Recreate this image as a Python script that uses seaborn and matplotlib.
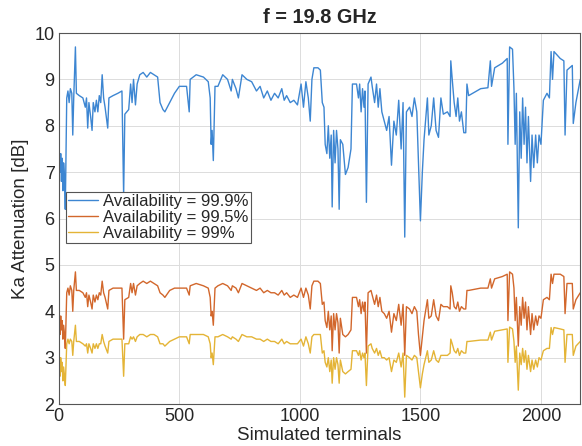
import matplotlib
matplotlib.use("Agg")
import matplotlib.pyplot as plt
import seaborn as sns
import pandas as pd

terminals = [0, 2, 5, 8, 11, 14, 17, 20, 24, 27, 33, 38, 43, 48, 54, 58, 62, 69, 73, 85,
             100, 110, 115, 120, 125, 132, 138, 143, 150, 156, 162, 168, 174, 180, 186, 192, 203, 208, 225, 245,
             262, 269, 274, 290, 298, 304, 310, 318, 325, 336, 350, 365, 380, 395, 410, 420, 432, 440, 460, 480,
             500, 530, 541, 545, 570, 600, 620, 628, 632, 636, 641, 648, 660, 680, 700, 715, 720, 735, 745, 760,
             780, 800, 820, 835, 850, 865, 880, 895, 910, 925, 935, 945, 960, 975, 990, 1005, 1015, 1025, 1035, 1043,
             1050, 1058, 1075, 1085, 1093, 1100, 1105, 1112, 1118, 1124, 1130, 1134, 1140, 1146, 1152, 1158, 1163, 1168, 1178, 1189,
             1200, 1212, 1218, 1235, 1243, 1248, 1254, 1260, 1266, 1270, 1276, 1283, 1295, 1300, 1310, 1318, 1325, 1332, 1340, 1350,
             1360, 1370, 1380, 1390, 1400, 1410, 1420, 1428, 1435, 1442, 1455, 1465, 1475, 1485, 1492, 1500, 1508, 1515, 1529, 1535,
             1545, 1555, 1565, 1575, 1585, 1595, 1612, 1623, 1626, 1632, 1640, 1648, 1655, 1662, 1670, 1680, 1688, 1693, 1700, 1750,
             1780, 1790, 1795, 1808, 1840, 1860, 1863, 1870, 1882, 1888, 1893, 1898, 1906, 1912, 1918, 1924, 1930, 1936, 1942, 1948,
             1957, 1963, 1970, 1978, 1985, 1992, 2000, 2010, 2025, 2035, 2042, 2048, 2054, 2080, 2095, 2100, 2108, 2130, 2134, 2145,
             2163]

avail_999 = [8.3, 7.3, 7.0, 7.4, 6.8, 7.3, 6.6, 7.2, 6.9, 6.2, 8.6, 8.75, 8.5, 8.8, 8.7, 7.8, 8.6, 9.7, 8.7, 8.65,
             8.6, 8.4, 8.6, 7.95, 8.5, 8.2, 7.9, 8.5, 8.3, 8.55, 8.3, 8.65, 8.5, 9.1, 8.6, 8.4, 7.95, 8.6, 8.65, 8.7,
             8.75, 6.5, 8.25, 8.35, 8.9, 8.5, 9.0, 8.45, 8.9, 9.1, 9.15, 9.05, 9.15, 9.1, 9.05, 8.5, 8.35, 8.3, 8.5, 8.7,
             8.85, 8.85, 8.3, 9.0, 9.1, 9.05, 8.95, 8.6, 7.6, 7.9, 7.25, 8.85, 8.85, 9.1, 9.0, 8.75, 9.0, 8.8, 8.6, 9.1,
             9.0, 8.95, 8.75, 8.85, 8.6, 8.75, 8.55, 8.7, 8.6, 8.8, 8.55, 8.65, 8.5, 8.55, 8.45, 8.9, 8.4, 8.95, 8.6, 8.1,
             9.0, 9.25, 9.25, 9.2, 8.5, 8.4, 7.6, 7.4, 8.0, 7.3, 7.8, 6.25, 7.9, 7.2, 7.9, 7.5, 6.2, 7.7, 7.6, 6.95,
             7.1, 7.5, 8.9, 8.9, 8.6, 8.9, 8.3, 8.8, 8.4, 8.75, 6.35, 8.9, 9.05, 8.85, 8.5, 8.9, 8.4, 8.8, 8.3, 8.1,
             7.9, 8.2, 7.15, 8.1, 7.8, 8.55, 7.5, 8.5, 5.6, 8.3, 8.4, 8.2, 8.6, 8.3, 7.2, 5.95, 7.0, 7.7, 8.6, 7.8,
             8.0, 8.6, 7.9, 7.75, 8.6, 8.25, 8.3, 8.2, 9.4, 9.0, 8.5, 8.2, 8.6, 8.1, 8.3, 7.85, 7.85, 8.9, 8.65, 8.8,
             8.82, 9.4, 8.85, 9.25, 9.35, 9.45, 7.6, 9.7, 9.65, 8.8, 7.6, 8.7, 5.8, 8.3, 7.3, 8.6, 7.6, 8.4, 7.2, 8.2,
             6.8, 7.8, 7.1, 7.8, 7.2, 7.8, 7.6, 8.55, 8.7, 8.6, 9.6, 9.0, 9.6, 9.45, 9.4, 7.8, 9.2, 9.3, 8.05, 8.5,
             9.0]

avail_995 = [4.1, 3.7, 3.5, 3.9, 3.6, 3.8, 3.4, 3.7, 3.5, 3.2, 4.4, 4.5, 4.35, 4.55, 4.45, 4.0, 4.45, 4.85, 4.45, 4.45,
             4.4, 4.3, 4.4, 4.1, 4.35, 4.2, 4.05, 4.35, 4.2, 4.35, 4.25, 4.4, 4.35, 4.65, 4.4, 4.3, 4.05, 4.45, 4.5, 4.5,
             4.5, 3.4, 4.25, 4.3, 4.6, 4.4, 4.6, 4.35, 4.55, 4.6, 4.65, 4.6, 4.65, 4.6, 4.55, 4.4, 4.35, 4.3, 4.45, 4.5,
             4.5, 4.5, 4.35, 4.55, 4.6, 4.55, 4.5, 4.3, 3.9, 4.0, 3.7, 4.5, 4.55, 4.6, 4.55, 4.45, 4.55, 4.5, 4.4, 4.6,
             4.55, 4.5, 4.45, 4.5, 4.4, 4.45, 4.4, 4.4, 4.35, 4.45, 4.35, 4.4, 4.3, 4.35, 4.3, 4.5, 4.3, 4.5, 4.35, 4.05,
             4.55, 4.65, 4.65, 4.6, 4.15, 4.2, 3.8, 3.65, 4.0, 3.6, 3.9, 3.15, 3.95, 3.6, 3.95, 3.75, 3.1, 3.85, 3.5, 3.45,
             3.5, 3.6, 4.3, 4.3, 4.1, 4.25, 3.95, 4.2, 4.0, 4.2, 3.1, 4.4, 4.45, 4.35, 4.15, 4.35, 4.1, 4.3, 4.0, 3.95,
             3.85, 4.0, 3.55, 3.95, 3.8, 4.15, 3.7, 4.15, 3.05, 4.1, 4.05, 3.95, 4.1, 4.0, 3.5, 3.05, 3.45, 3.8, 4.25, 3.85,
             3.9, 4.25, 3.9, 3.8, 4.15, 4.1, 4.1, 4.05, 4.55, 4.4, 4.1, 4.05, 4.2, 4.0, 4.1, 4.05, 4.05, 4.45, 4.45, 4.5,
             4.5, 4.7, 4.5, 4.7, 4.75, 4.8, 3.8, 4.85, 4.8, 4.5, 3.8, 4.3, 3.25, 4.1, 3.7, 4.3, 3.85, 4.2, 3.6, 4.1,
             3.5, 3.95, 3.6, 3.9, 3.7, 3.9, 3.85, 4.25, 4.3, 4.25, 4.8, 4.6, 4.8, 4.8, 4.75, 3.95, 4.6, 4.6, 4.05, 4.25,
             4.4]

avail_99 = [3.0, 2.8, 2.6, 3.0, 2.7, 2.9, 2.5, 2.8, 2.6, 2.4, 3.3, 3.4, 3.3, 3.4, 3.35, 3.05, 3.35, 3.7, 3.35, 3.35,
            3.3, 3.25, 3.3, 3.1, 3.3, 3.2, 3.1, 3.3, 3.2, 3.3, 3.2, 3.3, 3.3, 3.5, 3.35, 3.25, 3.1, 3.35, 3.4, 3.4,
            3.4, 2.6, 3.3, 3.3, 3.45, 3.4, 3.45, 3.35, 3.45, 3.5, 3.5, 3.45, 3.5, 3.5, 3.45, 3.3, 3.3, 3.25, 3.35, 3.4,
            3.45, 3.45, 3.3, 3.5, 3.5, 3.5, 3.45, 3.3, 3.0, 3.1, 2.85, 3.45, 3.45, 3.5, 3.45, 3.4, 3.45, 3.4, 3.35, 3.5,
            3.45, 3.45, 3.4, 3.4, 3.35, 3.4, 3.35, 3.35, 3.3, 3.4, 3.3, 3.35, 3.3, 3.3, 3.3, 3.4, 3.25, 3.45, 3.3, 3.1,
            3.45, 3.5, 3.5, 3.5, 3.1, 3.15, 2.9, 2.8, 3.0, 2.7, 2.95, 2.45, 3.0, 2.75, 3.0, 2.85, 2.45, 2.95, 2.7, 2.65,
            2.7, 2.75, 3.15, 3.15, 3.05, 3.15, 2.95, 3.1, 3.0, 3.1, 2.4, 3.25, 3.3, 3.2, 3.1, 3.2, 3.05, 3.15, 3.0, 3.0,
            2.95, 3.0, 2.7, 2.95, 2.9, 3.1, 2.8, 3.1, 2.15, 3.05, 3.0, 2.95, 3.05, 3.0, 2.7, 2.35, 2.65, 2.85, 3.15, 2.9,
            2.95, 3.15, 2.95, 2.9, 3.05, 3.05, 3.05, 3.1, 3.4, 3.3, 3.15, 3.1, 3.2, 3.05, 3.15, 3.1, 3.1, 3.35, 3.35, 3.38,
            3.38, 3.55, 3.38, 3.57, 3.6, 3.62, 2.9, 3.66, 3.62, 3.35, 2.9, 3.25, 2.3, 3.1, 2.85, 3.2, 2.9, 3.15, 2.75, 3.05,
            2.7, 2.95, 2.75, 2.95, 2.8, 3.0, 2.95, 3.15, 3.2, 3.2, 3.65, 3.5, 3.65, 3.62, 3.6, 2.9, 3.5, 3.5, 3.05, 3.25,
            3.35]

labels = ["Availability = 99.9%", "Availability = 99.5%", "Availability = 99%"]
colors = ["#3d86d2", "#d2672c", "#e4b436"]
x_ticks = [0, 500, 1000, 1500, 2000]
y_ticks = [2, 3, 4, 5, 6, 7, 8, 9, 10]

frames = []
for lab, vals in zip(labels, [avail_999, avail_995, avail_99]):
    frames.append(pd.DataFrame({"terminal": terminals, "att": vals, "series": lab}))
df = pd.concat(frames, ignore_index=True)

sns.set_style("whitegrid")
plt.rcParams["font.family"] = ["Liberation Sans", "DejaVu Sans"]

fig = plt.figure(figsize=(5.82, 4.46), dpi=100)
ax = fig.add_axes([0.101, 0.094, 0.896, 0.832])

sns.lineplot(data=df, x="terminal", y="att", hue="series", hue_order=labels,
             palette=colors, estimator=None, sort=False, linewidth=1.0, ax=ax)

ax.set_xlim(0, 2163)
ax.set_ylim(2, 10)
ax.set_xticks(x_ticks)
ax.set_yticks(y_ticks)
ax.tick_params(axis="both", direction="in", labelsize=13, length=4, color="#444444",
               labelcolor="#262626", pad=3)
ax.grid(True, color="#dcdcdc", linewidth=0.7)
for s in ax.spines.values():
    s.set_color("#555555")
    s.set_linewidth(0.8)
ax.set_xlabel("Simulated terminals", fontsize=13.5, labelpad=1, color="#262626")
ax.set_ylabel("Ka Attenuation [dB]", fontsize=13.5, labelpad=4, color="#262626")
ax.set_title("f = 19.8 GHz", fontsize=14.3, fontweight="bold", pad=7)

leg = ax.legend(loc="upper left", bbox_to_anchor=(0.013, 0.572), fontsize=12,
                frameon=True, fancybox=False, edgecolor="#555555", framealpha=1,
                borderpad=0.15, labelspacing=0.05, handlelength=1.8, handletextpad=0.3,
                borderaxespad=0)
leg.get_frame().set_linewidth(0.8)

fig.savefig("out.png", dpi=100)
